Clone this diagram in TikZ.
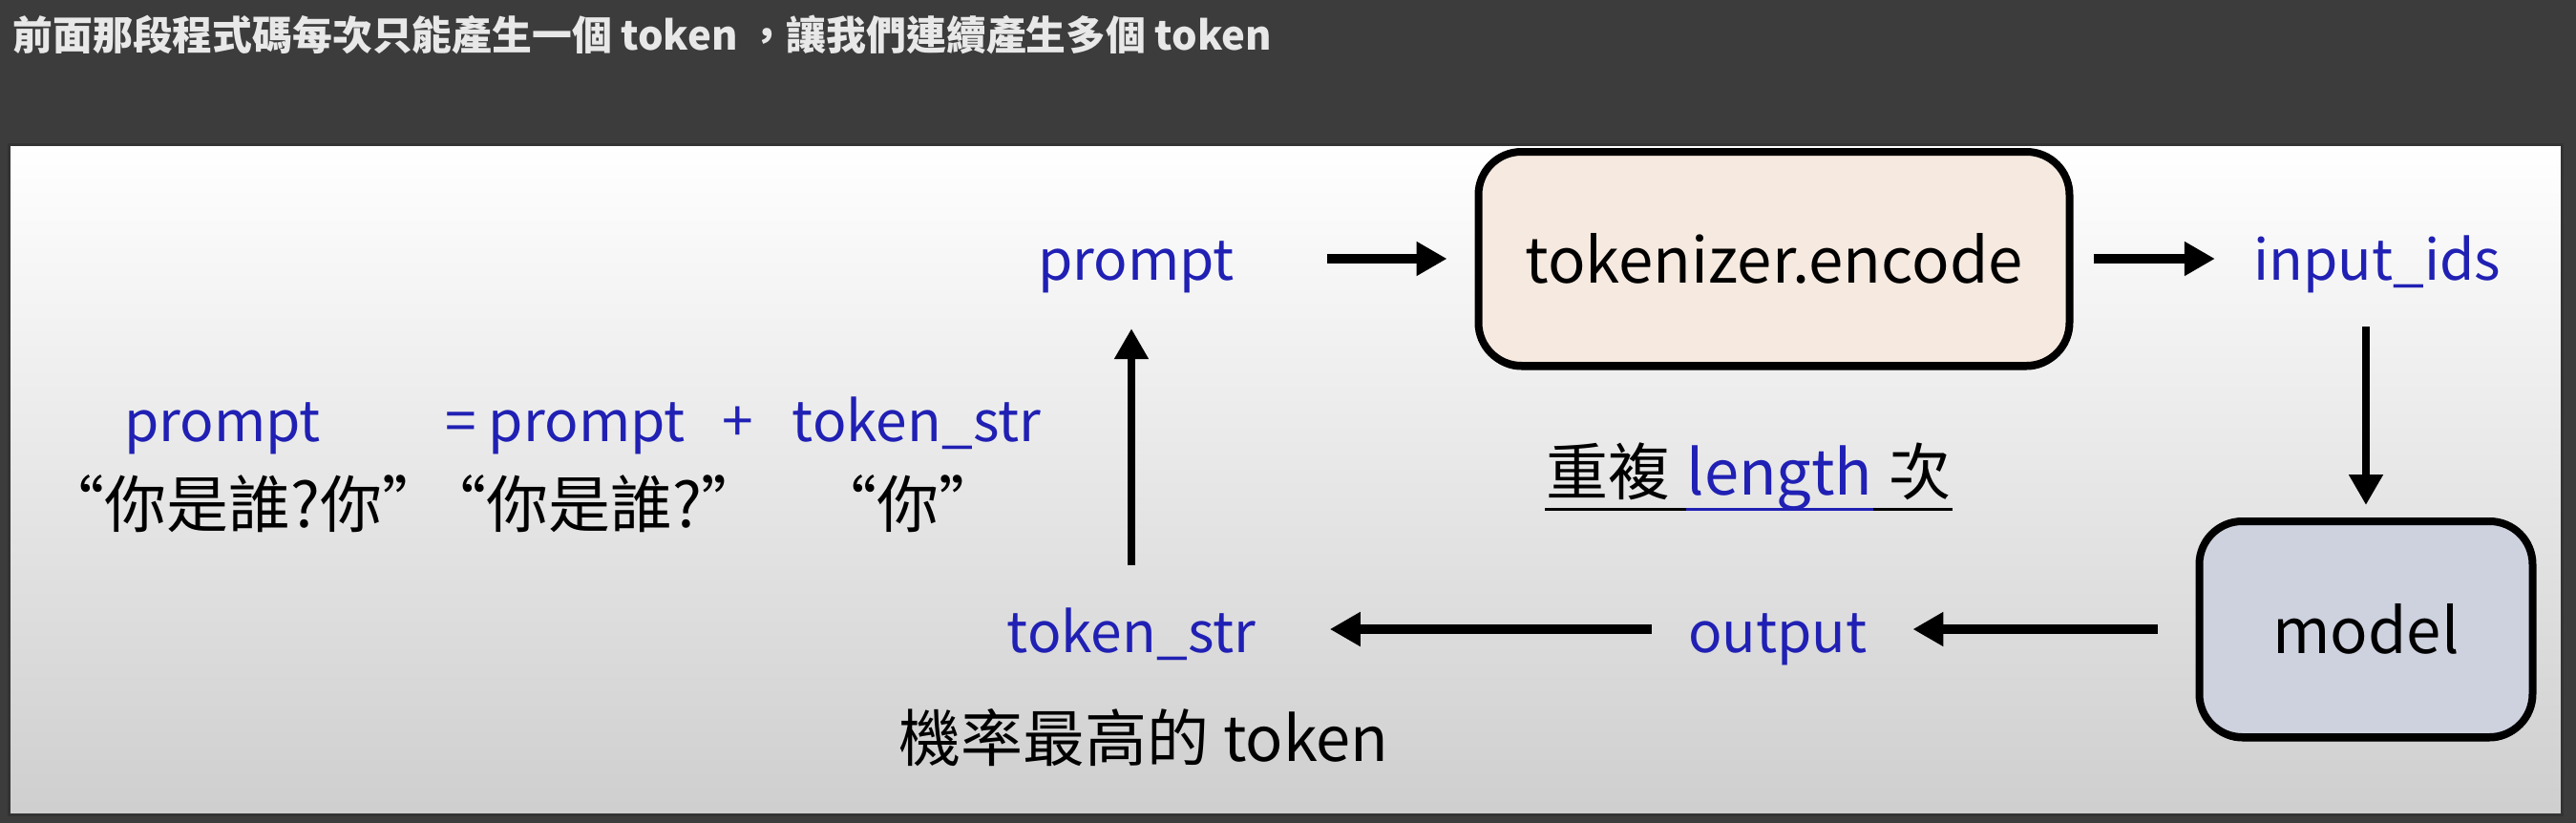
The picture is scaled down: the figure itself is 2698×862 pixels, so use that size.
\documentclass[tikz,border=0pt]{standalone}
\usepackage{fontspec}
\setmainfont{Noto Sans CJK TC}
\usepackage{xcolor}
\usepackage{tikz}
\usetikzlibrary{arrows.meta,calc,positioning}
\definecolor{screengrey}{HTML}{3C3C3C}
\definecolor{codeblue}{HTML}{2020B4}
\definecolor{encodepeach}{HTML}{F6E9DF}
\definecolor{modelslate}{HTML}{CED2DF}
\definecolor{captionwhite}{HTML}{E8E8E8}
\tikzset{
  var label/.style  = {anchor=base, inner sep=0pt, text=codeblue,
                       font=\fontsize{16.7}{18}\selectfont},
  note label/.style = {anchor=base, inner sep=0pt, text=black,
                       font=\fontsize{18.5}{20}\selectfont},
  stage box/.style  = {draw=black, line width=0.8mm, rounded corners=4.5mm,
                       inner sep=0pt, font=\fontsize{18.6}{20}\selectfont,
                       preaction={fill=black, transform canvas={yshift=-0.45mm}}},
  flow/.style       = {-{Triangle[length=3.2mm,width=3.4mm]}, line width=1mm},
  flow v/.style     = {flow, line width=0.8mm},
  underrule/.style  = {line width=0.3mm},
}

\begin{document}
\begin{tikzpicture}[x=0.1mm, y=-0.1mm]
  \useasboundingbox (0,0) rectangle (2698,862);
  \fill[screengrey] (0,0) rectangle (2698,862);
  \shade[top color=white, middle color=black!7, bottom color=black!19]
    (9,151) rectangle (2683,853);
  \draw[black!80, line width=0.3mm] (9,151) rectangle (2683,853);

  \node[anchor=base west, inner sep=0pt, text=captionwhite,
        font=\bfseries\fontsize{11.9}{14}\selectfont] (caption) at (13,52)
    {前面那段程式碼每次只能產生一個 token ，讓我們連續產生多個 token};

  % the loop
  \node[stage box, fill=encodepeach, minimum width=61.9mm, minimum height=22.4mm]
    (encode) at (1858,271) {tokenizer.encode};
  \node[stage box, fill=modelslate, minimum width=34.9mm, minimum height=22.6mm]
    (model) at (2478,659) {model};
  \node[var label] (prompt) at (1190,293) {prompt};
  \node[var label] (ids) at (2490,293) {input\_ids};
  \node[var label] (output) at (1862,683) {output};
  \node[var label] (tokstr) at (1185,683) {token\_str};
  \node[note label] (best) at (1198,797) {機率最高的 token};

  \node[var label, font=\fontsize{18.5}{20}\selectfont] (replen) at (1864,518) {length};
  \node[note label, base left=1.6mm of replen] (rep1) {重複};
  \node[note label, base right=1.6mm of replen] (rep3) {次};
  \draw[underrule] (rep1.west |- 0,533) -- (rep3.east |- 0,533);
  \draw[underrule, codeblue] (replen.west |- 0,533) -- (replen.east |- 0,533);

  \draw[flow, shorten <=9.6mm, shorten >=2.9mm] (prompt.east |- encode.west) -- (encode.west);
  \draw[flow, shorten <=2.1mm, shorten >=4mm] (encode.east) -- (encode.east -| ids.west);
  \draw[flow v, shorten <=3.5mm, shorten >=1.3mm] (ids.south -| model.north) -- (model.north);
  \draw[flow, shorten <=4mm, shorten >=4.7mm] (model.west) -- (model.west -| output.east);
  \draw[flow, shorten <=3.8mm, shorten >=7.7mm] (output.west |- model.west) -- (tokstr.east |- model.west);
  \draw[flow v, shorten <=4.4mm, shorten >=3.7mm] (tokstr.north) -- (tokstr.north |- prompt.south);

  % the update rule
  \node[var label] (lhs) at (233,462) {prompt};
  \node[var label] (rhs) at (592,462) {= prompt};
  \node[var label] (plus) at (773,462) {+};
  \node[var label] (rhstok) at (960,462) {token\_str};
  \node[note label] (lhsval) at (255,552) {“你是誰?你”};
  \node[note label] (rhsval) at (622,552) {“你是誰?”};
  \node[note label] (tokval) at (951,552) {“你”};
\end{tikzpicture}
\end{document}
